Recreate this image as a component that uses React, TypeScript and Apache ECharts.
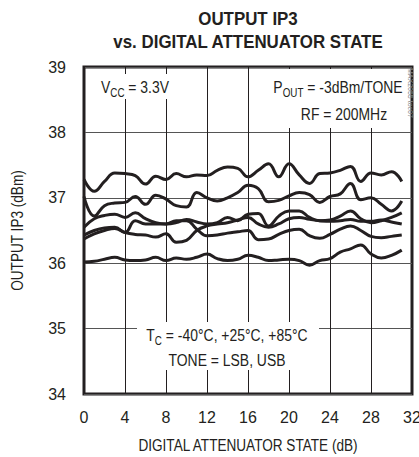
import React, { useEffect, useRef } from "react";
import * as echarts from "echarts";

const states = [0, 1, 2, 3, 4, 5, 6, 7, 8, 9, 10, 11, 12, 13, 14, 15, 16, 17, 18, 19, 20, 21, 22, 23, 24, 25, 26, 27, 28, 29, 30, 31];
const curve1 = [37.28, 37.1, 37.25, 37.38, 37.37, 37.34, 37.21, 37.33, 37.28, 37.37, 37.32, 37.35, 37.34, 37.42, 37.47, 37.45, 37.32, 37.42, 37.52, 37.32, 37.52, 37.35, 37.22, 37.37, 37.38, 37.42, 37.48, 37.25, 37.38, 37.35, 37.4, 37.25];
const curve2 = [37.02, 36.72, 36.88, 36.92, 36.93, 37.02, 36.9, 37.04, 36.98, 36.88, 36.86, 37.08, 37.0, 36.95, 37.0, 37.08, 37.19, 37.14, 36.94, 36.96, 37.03, 37.08, 37.05, 36.93, 37.02, 37.06, 37.22, 36.97, 37.0, 36.9, 36.8, 36.95];
const curve3 = [36.55, 36.68, 36.73, 36.75, 36.7, 36.77, 36.68, 36.62, 36.6, 36.62, 36.67, 36.63, 36.6, 36.62, 36.7, 36.65, 36.75, 36.76, 36.57, 36.72, 36.8, 36.8, 36.7, 36.65, 36.66, 36.72, 36.8, 36.68, 36.62, 36.65, 36.7, 36.77];
const curve4 = [36.43, 36.5, 36.54, 36.55, 36.47, 36.65, 36.6, 36.6, 36.6, 36.65, 36.65, 36.52, 36.42, 36.43, 36.46, 36.48, 36.5, 36.36, 36.37, 36.44, 36.5, 36.52, 36.42, 36.38, 36.44, 36.52, 36.57, 36.5, 36.41, 36.39, 36.41, 36.43];
const curve5 = [36.37, 36.45, 36.5, 36.53, 36.47, 36.44, 36.43, 36.4, 36.45, 36.32, 36.35, 36.5, 36.57, 36.6, 36.62, 36.66, 36.7, 36.6, 36.55, 36.6, 36.68, 36.7, 36.67, 36.65, 36.64, 36.65, 36.67, 36.64, 36.64, 36.66, 36.63, 36.6];
const curve6 = [36.02, 36.03, 36.06, 36.09, 36.05, 36.04, 36.05, 36.09, 36.04, 36.08, 36.06, 36.09, 36.14, 36.07, 36.04, 36.06, 36.12, 36.09, 36.04, 36.05, 36.06, 36.04, 35.97, 36.04, 36.07, 36.17, 36.22, 36.28, 36.14, 36.08, 36.12, 36.2];
const curves = [curve1, curve2, curve3, curve4, curve5, curve6];
const xMaxLabel = "32";

const FONT = "'Liberation Sans', Arial, sans-serif";
const INK = "#231f20";
const NARROW = 0.82;

export default function App() {
  const ref = useRef<HTMLDivElement>(null);
  useEffect(() => {
    if (!ref.current) return;
    const chart = echarts.init(ref.current, undefined, { renderer: "svg" });
    const series = curves.map((c) => ({
      type: "line",
      data: states.map((s, i) => [s, c[i]]),
      smooth: 0.45,
      symbol: "none",
      lineStyle: { color: INK, width: 3 },
      z: 5,
    }));
    const txt = { fontFamily: FONT, fontSize: 17, fill: INK };
    const sub = { fontFamily: FONT, fontSize: 12, fill: INK, padding: [12, 0, 0, 0] };
    chart.setOption({
      animation: false,
      grid: {
        left: 84,
        right: 7,
        top: 67,
        bottom: 63,
        show: true,
        borderColor: INK,
        borderWidth: 3,
        backgroundColor: "transparent",
      },
      xAxis: {
        type: "value",
        min: 0,
        max: 32,
        interval: 4,
        axisLine: { show: false },
        axisTick: { show: false },
        splitLine: { show: true, lineStyle: { color: INK, width: 1 } },
        axisLabel: {
          fontFamily: FONT,
          fontSize: 16,
          color: INK,
          margin: 15,
          formatter: (v: number) => (v >= 32 ? "" : String(v)),
        },
      },
      yAxis: {
        type: "value",
        min: 34,
        max: 39,
        interval: 1,
        axisLine: { show: false },
        axisTick: { show: false },
        splitLine: { show: true, lineStyle: { color: "#555", width: 1 } },
        axisLabel: { fontFamily: FONT, fontSize: 16, color: INK, margin: 18 },
      },
      series,
      graphic: [
        {
          type: "text",
          z: 100,
          x: 412,
          y: 409,
          style: {
            text: xMaxLabel,
            textAlign: "center",
            textVerticalAlign: "top",
            fontFamily: FONT,
            fontSize: 16,
            fill: INK,
          },
        },
        {
          type: "text",
          z: 100,
          x: 248,
          y: 18.5,
          scaleX: 0.89,
          style: {
            text: "OUTPUT IP3",
            textAlign: "center",
            textVerticalAlign: "middle",
            fontFamily: FONT,
            fontWeight: "bold",
            fontSize: 19,
            fill: INK,
          },
        },
        {
          type: "text",
          z: 100,
          x: 248,
          y: 42,
          scaleX: 0.89,
          style: {
            text: "vs. DIGITAL ATTENUATOR STATE",
            textAlign: "center",
            textVerticalAlign: "middle",
            fontFamily: FONT,
            fontWeight: "bold",
            fontSize: 19,
            fill: INK,
          },
        },
        {
          type: "text",
          z: 100,
          x: 248,
          y: 445,
          scaleX: 0.8,
          style: {
            text: "DIGITAL ATTENUATOR STATE (dB)",
            textAlign: "center",
            textVerticalAlign: "middle",
            ...txt,
          },
        },
        {
          type: "text",
          z: 100,
          x: 17,
          y: 230.5,
          rotation: Math.PI / 2,
          scaleX: 0.8,
          style: {
            text: "OUTPUT IP3 (dBm)",
            textAlign: "center",
            textVerticalAlign: "middle",
            ...txt,
          },
        },
        { type: "rect", z: 50, shape: { x: 97, y: 74, width: 82, height: 25 }, style: { fill: "#fff" } },
        {
          type: "text",
          z: 100,
          x: 101,
          y: 74.5,
          scaleX: NARROW,
          style: {
            text: "{a|V}{s|CC}{a| = 3.3V}",
            rich: { a: { ...txt }, s: sub },
          },
        },
        { type: "rect", z: 50, shape: { x: 265, y: 69, width: 145, height: 59 }, style: { fill: "#fff" } },
        {
          type: "text",
          z: 100,
          x: 338,
          y: 74.5,
          scaleX: NARROW,
          style: {
            text: "{a|P}{s|OUT}{a| = -3dBm/TONE}",
            textAlign: "center",
            rich: { a: { ...txt }, s: sub },
          },
        },
        {
          type: "text",
          z: 100,
          x: 344,
          y: 105,
          scaleX: NARROW,
          style: { text: "RF = 200MHz", textAlign: "center", ...txt },
        },
        { type: "rect", z: 50, shape: { x: 137, y: 322, width: 182, height: 48 }, style: { fill: "#fff" } },
        {
          type: "text",
          z: 100,
          x: 227,
          y: 323,
          scaleX: NARROW,
          style: {
            text: "{a|T}{s|C}{a| = -40°C, +25°C, +85°C}",
            textAlign: "center",
            rich: { a: { ...txt }, s: sub },
          },
        },
        {
          type: "text",
          z: 100,
          x: 227,
          y: 351,
          scaleX: NARROW,
          style: { text: "TONE = LSB, USB", textAlign: "center", ...txt },
        },
        {
          type: "text",
          z: 100,
          x: 414,
          y: 68,
          rotation: -Math.PI / 2,
          style: { text: "MAX2055 toc07", fontFamily: FONT, fontSize: 7, fill: "#888" },
        },
      ],
    });
    return () => chart.dispose();
  }, []);
  return <div ref={ref} style={{ position: "absolute", left: 0, top: 0, width: 419, height: 457 }} />;
}
